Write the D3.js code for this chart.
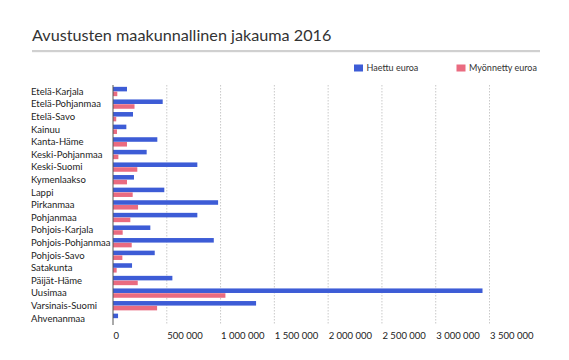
<!DOCTYPE html>
<html><head><meta charset="utf-8">
<script src="https://cdn.jsdelivr.net/npm/d3@7"></script>
<style>
html,body{margin:0;padding:0;background:#fff;}
svg{display:block;font-family:Lato,"Open Sans",sans-serif;}
</style></head>
<body><svg id="c" width="569" height="360"></svg>
<script>
const title = "Avustusten maakunnallinen jakauma 2016";
const categories = ["Etelä-Karjala","Etelä-Pohjanmaa","Etelä-Savo","Kainuu","Kanta-Häme","Keski-Pohjanmaa","Keski-Suomi","Kymenlaakso","Lappi","Pirkanmaa","Pohjanmaa","Pohjois-Karjala","Pohjois-Pohjanmaa","Pohjois-Savo","Satakunta","Päijät-Häme","Uusimaa","Varsinais-Suomi","Ahvenanmaa"];
const seriesNames = ["Haettu euroa","Myönnetty euroa"];
const haettu = [130000,462000,186000,124000,412000,313000,784000,195000,477000,977000,784000,347000,937000,388000,177000,552000,3435000,1330000,47000];
const myonnetty = [40000,200000,30000,37000,130000,50000,226000,130000,183000,233000,161000,90000,174000,87000,34000,230000,1045000,410000,0];
const tickValues = [0,500000,1000000,1500000,2000000,2500000,3000000,3500000];
const colors = ["#3d5cd6","#ea6b80"];

const svg = d3.select("#c");
const fmt = v => d3.format(",")(v).replace(/,/g," ");

svg.append("text").attr("x",32).attr("y",41).attr("font-size",16.2).attr("fill","#333").text(title);
svg.append("rect").attr("x",32).attr("y",50).attr("width",508).attr("height",2.2).attr("fill","#d0d0d0");

// legend
const legX = [354, 456.5];
seriesNames.forEach((n,i)=>{
  svg.append("rect").attr("x",legX[i]).attr("y",64.5).attr("width",9).attr("height",7).attr("fill",colors[i]);
  svg.append("text").attr("x",legX[i]+12.5).attr("y",71).attr("font-size",9).attr("fill","#333").text(n);
});

const x = d3.scaleLinear().domain([0,3500000]).range([113,489.5]);
const y = d3.scaleBand().domain(categories).range([85.2, 85.2+19*12.6]).paddingInner(0.26).paddingOuter(0.13);
const sub = d3.scaleBand().domain(seriesNames).range([0,y.bandwidth()]).paddingInner(0.05);

// grid
svg.append("g").selectAll("line").data(tickValues.slice(1)).join("line")
  .attr("x1",d=>x(d)).attr("x2",d=>x(d)).attr("y1",85).attr("y2",325)
  .attr("stroke","#bbb").attr("stroke-width",0.8).attr("stroke-dasharray","1.5,1.5");

const rows = svg.append("g").selectAll("g").data(categories).join("g")
  .attr("transform",d=>`translate(0,${y(d)})`);
rows.append("rect").attr("x",x(0)).attr("y",sub(seriesNames[0]))
  .attr("width",(d,i)=>x(haettu[i])-x(0)).attr("height",sub.bandwidth()).attr("fill",colors[0]);
rows.append("rect").attr("x",x(0)).attr("y",sub(seriesNames[1]))
  .attr("width",(d,i)=>x(myonnetty[i])-x(0)).attr("height",sub.bandwidth()).attr("fill",colors[1]);

// category labels
svg.append("g").selectAll("text").data(categories).join("text")
  .attr("x",31).attr("y",d=>y(d)+y.bandwidth()/2).attr("dy","0.35em")
  .attr("font-size",9.5).attr("fill","#222").text(d=>d);

// zero line
svg.append("line").attr("x1",x(0)).attr("x2",x(0)).attr("y1",85).attr("y2",325).attr("stroke","#555").attr("stroke-width",1);

// x axis
const ax = svg.append("g").attr("transform","translate(0,327)")
  .call(d3.axisBottom(x).tickValues(tickValues).tickSize(0).tickPadding(5).tickFormat(fmt));
ax.select(".domain").remove();
ax.selectAll("text").attr("font-size",9.5).attr("fill","#222").attr("font-family","Lato,sans-serif")
  .attr("text-anchor","start").attr("x",0);
</script></body></html>
